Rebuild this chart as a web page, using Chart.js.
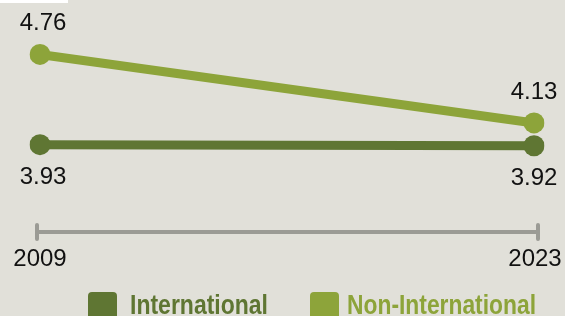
<!DOCTYPE html>
<html>
<head>
<meta charset="utf-8">
<script src="https://cdn.jsdelivr.net/npm/chart.js@4.4.1/dist/chart.umd.min.js"></script>
<style>
html, body { margin: 0; padding: 0; background: #e1e0d9; overflow: hidden; }
#wrap { position: relative; width: 565px; height: 316px; }
#corner { position: absolute; left: 0; top: 0; width: 68px; height: 3px; background: #fff; }
.item { position: absolute; top: 292px; height: 40px; white-space: nowrap;
  font: bold 28px "Liberation Sans", Arial, sans-serif; }
.item span.box { position: absolute; left: 0; top: 0; width: 29px; height: 29px; border-radius: 4px; }
.item span.txt { position: absolute; top: -3px; transform-origin: 0 0; }
</style>
</head>
<body>
<div id="wrap">
  <canvas id="chart" width="565" height="316"></canvas>
  <div id="corner"></div>
  <div id="legend"></div>
</div>
<script>
// 데이터
var years = ['2009', '2023'];
var seriesNames = ['International', 'Non-International'];
var internationalValues = [3.93, 3.92];
var nonInternationalValues = [4.76, 4.13];

var colors = ['#5f7633', '#8da43a'];
var labelOffsets = [33, -31]; // 값 라벨 위치 (점 기준)
var labelFont = '24px "Liberation Sans", Arial, sans-serif';

// 값 라벨 그리기
var valueLabels = {
    id: 'valueLabels',
    afterDatasetsDraw: function (chart) {
        var ctx = chart.ctx;
        ctx.save();
        ctx.font = labelFont;
        ctx.fillStyle = '#111';
        ctx.textAlign = 'center';
        ctx.textBaseline = 'middle';
        chart.data.datasets.forEach(function (ds, i) {
            var meta = chart.getDatasetMeta(i);
            meta.data.forEach(function (pt, j) {
                ctx.fillText(ds.data[j].toFixed(2), pt.x + (j === 0 ? 3 : 0), pt.y + labelOffsets[i]);
            });
        });
        ctx.restore();
    }
};

// 아래쪽 회색 축선과 연도 라벨
var axisLine = {
    id: 'axisLine',
    beforeDatasetsDraw: function (chart) {
        var ctx = chart.ctx;
        var xs = chart.scales.x;
        var y = chart.chartArea.bottom;
        var x0 = xs.getPixelForTick(0) - 3;
        var x1 = xs.getPixelForTick(years.length - 1) + 4;
        ctx.save();
        ctx.strokeStyle = '#9b9b95';
        ctx.lineWidth = 4;
        ctx.lineCap = 'round';
        ctx.beginPath();
        ctx.moveTo(x0, y);
        ctx.lineTo(x1, y);
        ctx.moveTo(x0, y - 7);
        ctx.lineTo(x0, y + 7);
        ctx.moveTo(x1, y - 7);
        ctx.lineTo(x1, y + 7);
        ctx.stroke();

        ctx.font = labelFont;
        ctx.fillStyle = '#111';
        ctx.textAlign = 'center';
        ctx.textBaseline = 'middle';
        chart.data.labels.forEach(function (lab, i) {
            ctx.fillText(lab, xs.getPixelForTick(i) + (i === 0 ? 0 : 1), y + 27);
        });
        ctx.restore();
    }
};

var chart = new Chart(document.getElementById('chart'), {
    type: 'line',
    data: {
        labels: years,
        datasets: [{
            label: seriesNames[0],
            data: internationalValues,
            borderColor: colors[0],
            backgroundColor: colors[0],
            borderWidth: 9,
            pointRadius: 10.5,
            pointHoverRadius: 10.5,
            pointBorderWidth: 0,
            order: 2
        }, {
            label: seriesNames[1],
            data: nonInternationalValues,
            borderColor: colors[1],
            backgroundColor: colors[1],
            borderWidth: 9,
            pointRadius: 10.5,
            pointHoverRadius: 10.5,
            pointBorderWidth: 0,
            order: 1
        }]
    },
    options: {
        responsive: false,
        animation: false,
        layout: { padding: { left: 40, right: 31, top: 10, bottom: 84 } },
        plugins: { legend: { display: false }, tooltip: { enabled: false } },
        scales: {
            x: {
                display: false,
                offset: false
            },
            y: {
                display: false,
                min: 3.127,
                max: 5.164
            }
        }
    },
    plugins: [axisLine, valueLabels]
});

// 범례
var legendLefts = [88, 310];
var legendTextGaps = [42, 37];
var legendTextWidths = [138, 189];
var legendEl = document.getElementById('legend');
seriesNames.forEach(function (name, i) {
    var item = document.createElement('div');
    item.className = 'item';
    item.style.left = legendLefts[i] + 'px';
    item.innerHTML = '<span class="box" style="background:' + colors[i] + '"></span>' +
        '<span class="txt" style="left:' + legendTextGaps[i] + 'px;color:' + colors[i] + '">' + name + '</span>';
    legendEl.appendChild(item);
    var txt = item.querySelector('.txt');
    var w = txt.getBoundingClientRect().width;
    txt.style.transform = 'scaleX(' + (legendTextWidths[i] / w) + ')';
});
</script>
</body>
</html>
